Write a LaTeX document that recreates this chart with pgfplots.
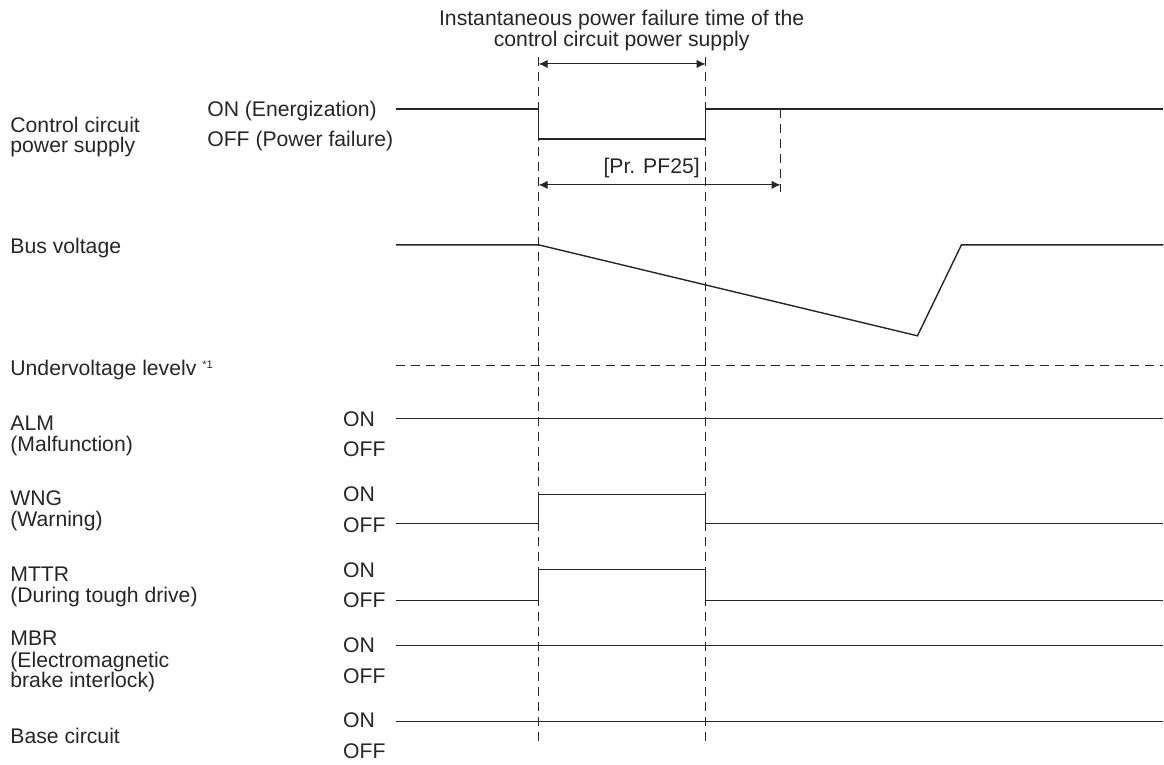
\documentclass[border=0pt]{standalone}
\usepackage{pgfplots}
\pgfplotsset{compat=1.18}
\usepackage{fontspec}
\setmainfont{Liberation Sans}
\usetikzlibrary{arrows.meta}
\tikzset{
 tx/.style={font=\fontsize{10.6}{12}\selectfont, inner sep=0pt, anchor=base west, text=black!85},
 sig/.style={black!85, line width=0.7pt, line join=miter},
 dsh/.style={black!85, line width=0.45pt, dash pattern=on 4.5pt off 3pt},
}
\begin{document}
\begin{tikzpicture}
\begin{axis}[
 width=582pt, height=382.5pt, scale only axis,
 xmin=0, xmax=1164, ymin=0, ymax=765, y dir=reverse,
 hide axis, clip=false,
]
\addplot[draw=none] coordinates {(0,0) (1164,765)};
% signals
\addplot[sig] coordinates {(396,109) (539,109) (539,139) (706,139) (706,109) (1164,109)};
\addplot[sig] coordinates {(396,245) (539,245) (918,336) (962,245) (1164,245)};
\addplot[dsh] coordinates {(396,366) (1164,366)};
\addplot[sig] coordinates {(396,419) (1164,419)};
\addplot[sig] coordinates {(396,524) (539,524) (539,495) (706,495) (706,524) (1164,524)};
\addplot[sig] coordinates {(396,601) (539,601) (539,570) (706,570) (706,601) (1164,601)};
\addplot[sig] coordinates {(396,646) (1164,646)};
\addplot[sig] coordinates {(396,722) (1164,722)};
% dashed verticals
\addplot[dsh] coordinates {(539,57) (539,745)};
\addplot[dsh] coordinates {(706,57) (706,745)};
\addplot[dsh] coordinates {(781,109) (781,192)};
% dimension arrows
\addplot[black!85, line width=0.5pt, {Latex[length=4.5pt,width=4.2pt]}-{Latex[length=4.5pt,width=4.2pt]}] coordinates {(539,64) (706,64)};
\addplot[black!85, line width=0.5pt, {Latex[length=4.5pt,width=4.2pt]}-{Latex[length=4.5pt,width=4.2pt]}] coordinates {(539,185) (781,185)};
% texts
\node[tx, anchor=base] at (axis cs:622,26) {Instantaneous power failure time of the};
\node[tx, anchor=base] at (axis cs:622,47) {control circuit power supply};
\node[tx, anchor=base] at (axis cs:652,174) {[Pr. PF25]};
\node[tx] at (axis cs:10,133) {Control circuit};
\node[tx] at (axis cs:10,153) {power supply};
\node[tx] at (axis cs:207,117) {ON (Energization)};
\node[tx] at (axis cs:207,147) {OFF (Power failure)};
\node[tx] at (axis cs:10,254) {Bus voltage};
\node[tx] at (axis cs:10,376) {Undervoltage levelv \raisebox{3.6pt}{\fontsize{5.5}{6}\selectfont *1}};
\node[tx] at (axis cs:10,431) {ALM};
\node[tx] at (axis cs:10,452) {(Malfunction)};
\node[tx] at (axis cs:10,506) {WNG};
\node[tx] at (axis cs:10,527) {(Warning)};
\node[tx] at (axis cs:10,582) {MTTR};
\node[tx] at (axis cs:10,603) {(During tough drive)};
\node[tx] at (axis cs:10,646) {MBR};
\node[tx] at (axis cs:10,668) {(Electromagnetic};
\node[tx] at (axis cs:10,688) {brake interlock)};
\node[tx] at (axis cs:10,744) {Base circuit};
\node[tx] at (axis cs:343,427) {ON};
\node[tx] at (axis cs:343,457) {OFF};
\node[tx] at (axis cs:343,502) {ON};
\node[tx] at (axis cs:343,533) {OFF};
\node[tx] at (axis cs:343,578) {ON};
\node[tx] at (axis cs:343,608) {OFF};
\node[tx] at (axis cs:343,653) {ON};
\node[tx] at (axis cs:343,684) {OFF};
\node[tx] at (axis cs:343,728) {ON};
\node[tx] at (axis cs:343,759) {OFF};
\end{axis}
\end{tikzpicture}
\end{document}
